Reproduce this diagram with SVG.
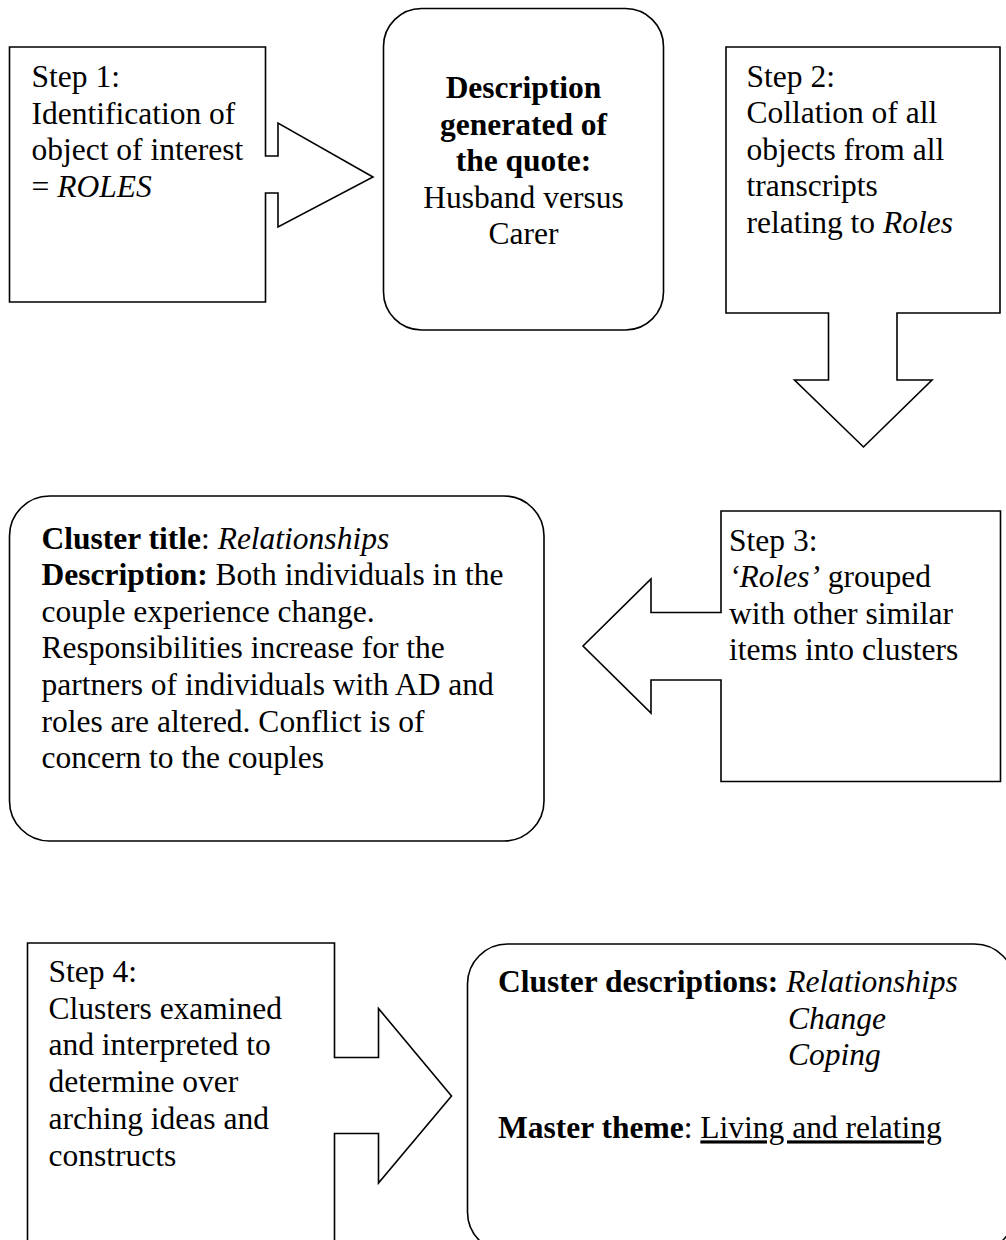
<svg xmlns="http://www.w3.org/2000/svg" width="1006" height="1240" viewBox="0 0 1006 1240">
<style>
.shape{fill:#fff;stroke:#000;stroke-width:1.6;stroke-linejoin:miter}
text{font-family:"Liberation Serif","Times New Roman",serif;font-size:31.5px;fill:#000}
.b{font-weight:bold}
.i{font-style:italic}
.u{text-decoration:underline}
</style>
<rect width="1006" height="1240" fill="#fff"/>
<g id="connectors"></g>
<g id="step1">
<polygon class="shape" points="9.5,47 265.5,47 265.5,156 278,156 278,123 373,177 278,227 278,193 265.5,193 265.5,302 9.5,302"/>
<text x="31.5" y="87">Step 1:</text>
<text x="31.5" y="123.6">Identification of</text>
<text x="31.5" y="160.2">object of interest</text>
<text x="31.5" y="196.8">= <tspan class="i">ROLES</tspan></text>
</g>
<g id="description">
<rect class="shape" x="383.5" y="8.5" width="280" height="321.5" rx="38" ry="38"/>
<text x="523.5" y="98" text-anchor="middle" class="b">Description</text>
<text x="523.5" y="134.6" text-anchor="middle" class="b">generated of</text>
<text x="523.5" y="171.2" text-anchor="middle" class="b">the quote:</text>
<text x="523.5" y="207.8" text-anchor="middle">Husband versus</text>
<text x="523.5" y="244.4" text-anchor="middle">Carer</text>
</g>
<g id="step2">
<polygon class="shape" points="726,47 1000,47 1000,313 897,313 897,380 932,380 863.5,447 794.5,380 828.5,380 828.5,313 726,313"/>
<text x="746.5" y="86.5">Step 2:</text>
<text x="746.5" y="123.1">Collation of all</text>
<text x="746.5" y="159.7">objects from all</text>
<text x="746.5" y="196.3">transcripts</text>
<text x="746.5" y="232.9">relating to <tspan class="i">Roles</tspan></text>
</g>
<g id="step3">
<polygon class="shape" points="721,511 1000.5,511 1000.5,781.5 721,781.5 721,680 651,680 651,713 583,646 651,579 651,612.5 721,612.5"/>
<text x="729" y="550.5">Step 3:</text>
<text x="729" y="587.1"><tspan class="i">‘Roles’</tspan> grouped</text>
<text x="729" y="623.7">with other similar</text>
<text x="729" y="660.3">items into clusters</text>
</g>
<g id="cluster">
<rect class="shape" x="9.5" y="496" width="534.5" height="345" rx="40" ry="40"/>
<text x="41.5" y="548.5"><tspan class="b">Cluster title</tspan>: <tspan class="i">Relationships</tspan></text>
<text x="41.5" y="585.1"><tspan class="b">Description:</tspan> Both individuals in the</text>
<text x="41.5" y="621.7">couple experience change.</text>
<text x="41.5" y="658.3">Responsibilities increase for the</text>
<text x="41.5" y="694.9">partners of individuals with AD and</text>
<text x="41.5" y="731.5">roles are altered. Conflict is of</text>
<text x="41.5" y="768.1">concern to the couples</text>
</g>
<g id="step4">
<polygon class="shape" points="27.5,1262 27.5,943 334.5,943 334.5,1057.5 378.5,1057.5 378.5,1008.5 451.5,1096 378.5,1183 378.5,1133.5 334.5,1133.5 334.5,1262"/>
<text x="48.5" y="982">Step 4:</text>
<text x="48.5" y="1018.7">Clusters examined</text>
<text x="48.5" y="1055.4">and interpreted to</text>
<text x="48.5" y="1092.1">determine over</text>
<text x="48.5" y="1128.8">arching ideas and</text>
<text x="48.5" y="1165.5">constructs</text>
</g>
<g id="theme">
<rect class="shape" x="467.5" y="944" width="547" height="308" rx="40" ry="40"/>
<text x="498" y="992"><tspan class="b">Cluster descriptions:</tspan> <tspan class="i">Relationships</tspan></text>
<text x="788" y="1028.6" class="i">Change</text>
<text x="788" y="1065.2" class="i">Coping</text>
<text x="498" y="1138.4"><tspan class="b">Master theme</tspan>: <tspan class="u">Living and relating</tspan></text>
</g>
</svg>
